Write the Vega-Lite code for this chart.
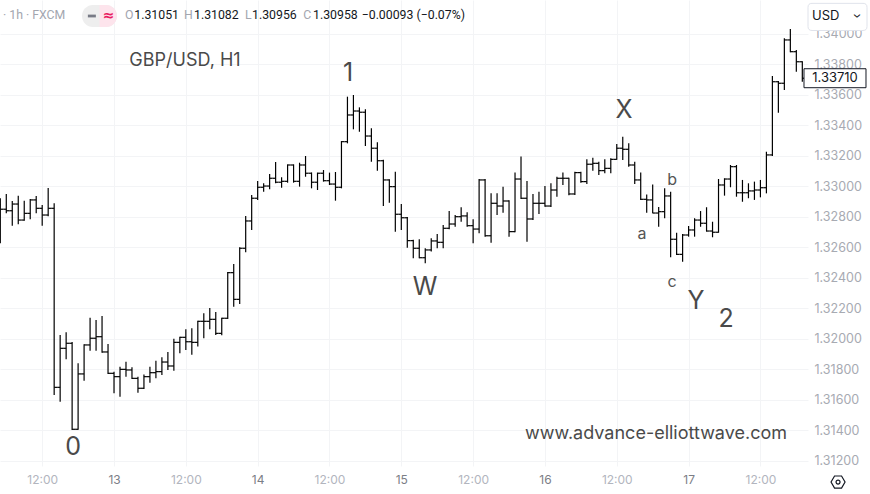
{
"$schema":"https://vega.github.io/schema/vega-lite/v6.json",
"width":808,"height":466,
"autosize":{"type":"none"},
"padding":{"left":0,"top":0,"right":62,"bottom":28},
"background":"#ffffff",
"config":{"view":{"stroke":null},"axis":{"domain":false,"ticks":false,"grid":true,"gridColor":"#f3f4f6","gridWidth":1,"labelFont":"Inter","labelFontSize":12,"labelOverlap":false,"labelFlush":false},
"axisY":{"labelOverlap":false,"labelFlush":false,"labelPadding":6,"labelColor":"#a7aab2","labelFontSize":12.5,"format":".5f","tickCount":40}},
"datasets":{
"bars":[
{"k":0,"o":1.32879,"h":1.32923,"l":1.32628,"c":1.32851},
{"k":1,"o":1.32851,"h":1.32951,"l":1.32824,"c":1.32841},
{"k":2,"o":1.32841,"h":1.32905,"l":1.32743,"c":1.32885},
{"k":3,"o":1.32885,"h":1.32940,"l":1.32752,"c":1.32780},
{"k":4,"o":1.32780,"h":1.32907,"l":1.32775,"c":1.32824},
{"k":5,"o":1.32824,"h":1.32918,"l":1.32785,"c":1.32912},
{"k":6,"o":1.32912,"h":1.32938,"l":1.32824,"c":1.32857},
{"k":7,"o":1.32857,"h":1.32879,"l":1.32743,"c":1.32813},
{"k":8,"o":1.32813,"h":1.32990,"l":1.32805,"c":1.32857},
{"k":9,"o":1.32857,"h":1.32890,"l":1.31633,"c":1.31683},
{"k":10,"o":1.31683,"h":1.32026,"l":1.31589,"c":1.31939},
{"k":11,"o":1.31939,"h":1.32044,"l":1.31867,"c":1.31972},
{"k":12,"o":1.31972,"h":1.31980,"l":1.31403,"c":1.31408},
{"k":13,"o":1.31408,"h":1.31841,"l":1.31405,"c":1.31771},
{"k":14,"o":1.31771,"h":1.31965,"l":1.31727,"c":1.31961},
{"k":15,"o":1.31961,"h":1.32140,"l":1.31923,"c":1.32005},
{"k":16,"o":1.32005,"h":1.32125,"l":1.31923,"c":1.32015},
{"k":17,"o":1.32015,"h":1.32151,"l":1.31910,"c":1.31915},
{"k":18,"o":1.31915,"h":1.31967,"l":1.31771,"c":1.31775},
{"k":19,"o":1.31775,"h":1.31786,"l":1.31644,"c":1.31753},
{"k":20,"o":1.31753,"h":1.31818,"l":1.31622,"c":1.31801},
{"k":21,"o":1.31801,"h":1.31851,"l":1.31753,"c":1.31797},
{"k":22,"o":1.31797,"h":1.31814,"l":1.31738,"c":1.31742},
{"k":23,"o":1.31742,"h":1.31753,"l":1.31648,"c":1.31677},
{"k":24,"o":1.31677,"h":1.31768,"l":1.31672,"c":1.31753},
{"k":25,"o":1.31753,"h":1.31818,"l":1.31713,"c":1.31779},
{"k":26,"o":1.31779,"h":1.31858,"l":1.31742,"c":1.31786},
{"k":27,"o":1.31786,"h":1.31880,"l":1.31764,"c":1.31849},
{"k":28,"o":1.31849,"h":1.31915,"l":1.31797,"c":1.31823},
{"k":29,"o":1.31823,"h":1.32002,"l":1.31792,"c":1.31978},
{"k":30,"o":1.31978,"h":1.32015,"l":1.31906,"c":1.32011},
{"k":31,"o":1.32011,"h":1.32064,"l":1.31928,"c":1.31982},
{"k":32,"o":1.31982,"h":1.32070,"l":1.31897,"c":1.31978},
{"k":33,"o":1.31978,"h":1.32120,"l":1.31950,"c":1.32116},
{"k":34,"o":1.32116,"h":1.32169,"l":1.32005,"c":1.32116},
{"k":35,"o":1.32116,"h":1.32203,"l":1.32064,"c":1.32129},
{"k":36,"o":1.32129,"h":1.32177,"l":1.32026,"c":1.32037},
{"k":37,"o":1.32037,"h":1.32140,"l":1.32024,"c":1.32136},
{"k":38,"o":1.32136,"h":1.32439,"l":1.32131,"c":1.32435},
{"k":39,"o":1.32435,"h":1.32492,"l":1.32212,"c":1.32260},
{"k":40,"o":1.32260,"h":1.32601,"l":1.32230,"c":1.32595},
{"k":41,"o":1.32595,"h":1.32807,"l":1.32569,"c":1.32774},
{"k":42,"o":1.32774,"h":1.32944,"l":1.32715,"c":1.32923},
{"k":43,"o":1.32923,"h":1.33036,"l":1.32912,"c":1.32995},
{"k":44,"o":1.32995,"h":1.33021,"l":1.32966,"c":1.33003},
{"k":45,"o":1.33003,"h":1.33082,"l":1.32982,"c":1.33054},
{"k":46,"o":1.33054,"h":1.33161,"l":1.33021,"c":1.33028},
{"k":47,"o":1.33028,"h":1.33060,"l":1.32992,"c":1.33034},
{"k":48,"o":1.33034,"h":1.33145,"l":1.33025,"c":1.33141},
{"k":49,"o":1.33141,"h":1.33145,"l":1.33025,"c":1.33034},
{"k":50,"o":1.33034,"h":1.33156,"l":1.32999,"c":1.33141},
{"k":51,"o":1.33141,"h":1.33200,"l":1.33064,"c":1.33087},
{"k":52,"o":1.33087,"h":1.33092,"l":1.32988,"c":1.33028},
{"k":53,"o":1.33028,"h":1.33091,"l":1.32977,"c":1.33087},
{"k":54,"o":1.33087,"h":1.33108,"l":1.33032,"c":1.33038},
{"k":55,"o":1.33038,"h":1.33091,"l":1.33010,"c":1.33016},
{"k":56,"o":1.33016,"h":1.33095,"l":1.32907,"c":1.32995},
{"k":57,"o":1.32995,"h":1.33298,"l":1.32988,"c":1.33294},
{"k":58,"o":1.33294,"h":1.33589,"l":1.33283,"c":1.33469},
{"k":59,"o":1.33469,"h":1.33600,"l":1.33375,"c":1.33495},
{"k":60,"o":1.33495,"h":1.33519,"l":1.33359,"c":1.33487},
{"k":61,"o":1.33487,"h":1.33506,"l":1.33266,"c":1.33331},
{"k":62,"o":1.33331,"h":1.33382,"l":1.33163,"c":1.33251},
{"k":63,"o":1.33251,"h":1.33290,"l":1.33104,"c":1.33169},
{"k":64,"o":1.33169,"h":1.33175,"l":1.32872,"c":1.33043},
{"k":65,"o":1.33043,"h":1.33047,"l":1.32894,"c":1.32999},
{"k":66,"o":1.32999,"h":1.33097,"l":1.32704,"c":1.32818},
{"k":67,"o":1.32818,"h":1.32885,"l":1.32715,"c":1.32795},
{"k":68,"o":1.32795,"h":1.32800,"l":1.32599,"c":1.32645},
{"k":69,"o":1.32645,"h":1.32650,"l":1.32529,"c":1.32595},
{"k":70,"o":1.32595,"h":1.32654,"l":1.32529,"c":1.32533},
{"k":71,"o":1.32533,"h":1.32595,"l":1.32496,"c":1.32584},
{"k":72,"o":1.32584,"h":1.32660,"l":1.32573,"c":1.32643},
{"k":73,"o":1.32643,"h":1.32689,"l":1.32595,"c":1.32634},
{"k":74,"o":1.32634,"h":1.32748,"l":1.32595,"c":1.32726},
{"k":75,"o":1.32726,"h":1.32839,"l":1.32720,"c":1.32754},
{"k":76,"o":1.32754,"h":1.32813,"l":1.32736,"c":1.32802},
{"k":77,"o":1.32802,"h":1.32864,"l":1.32769,"c":1.32807},
{"k":78,"o":1.32807,"h":1.32831,"l":1.32736,"c":1.32743},
{"k":79,"o":1.32743,"h":1.32785,"l":1.32628,"c":1.32721},
{"k":80,"o":1.32721,"h":1.33049,"l":1.32693,"c":1.33043},
{"k":81,"o":1.33043,"h":1.33049,"l":1.32671,"c":1.32677},
{"k":82,"o":1.32677,"h":1.32955,"l":1.32631,"c":1.32890},
{"k":83,"o":1.32890,"h":1.32955,"l":1.32813,"c":1.32872},
{"k":84,"o":1.32872,"h":1.32999,"l":1.32828,"c":1.32905},
{"k":85,"o":1.32905,"h":1.32910,"l":1.32671,"c":1.32704},
{"k":86,"o":1.32704,"h":1.33091,"l":1.32700,"c":1.33049},
{"k":87,"o":1.33049,"h":1.33196,"l":1.32918,"c":1.32923},
{"k":88,"o":1.32923,"h":1.33036,"l":1.32638,"c":1.32787},
{"k":89,"o":1.32787,"h":1.32951,"l":1.32780,"c":1.32890},
{"k":90,"o":1.32890,"h":1.32966,"l":1.32820,"c":1.32890},
{"k":91,"o":1.32890,"h":1.33003,"l":1.32868,"c":1.32872},
{"k":92,"o":1.32872,"h":1.33021,"l":1.32865,"c":1.32977},
{"k":93,"o":1.32977,"h":1.33064,"l":1.32933,"c":1.33054},
{"k":94,"o":1.33054,"h":1.33091,"l":1.33010,"c":1.33054},
{"k":95,"o":1.33054,"h":1.33058,"l":1.32942,"c":1.32951},
{"k":96,"o":1.32951,"h":1.33097,"l":1.32944,"c":1.33091},
{"k":97,"o":1.33091,"h":1.33097,"l":1.33025,"c":1.33032},
{"k":98,"o":1.33032,"h":1.33178,"l":1.33016,"c":1.33146},
{"k":99,"o":1.33146,"h":1.33189,"l":1.33104,"c":1.33152},
{"k":100,"o":1.33152,"h":1.33163,"l":1.33075,"c":1.33104},
{"k":101,"o":1.33104,"h":1.33178,"l":1.33087,"c":1.33119},
{"k":102,"o":1.33119,"h":1.33185,"l":1.33087,"c":1.33178},
{"k":103,"o":1.33178,"h":1.33279,"l":1.33175,"c":1.33251},
{"k":104,"o":1.33251,"h":1.33327,"l":1.33174,"c":1.33244},
{"k":105,"o":1.33244,"h":1.33283,"l":1.33130,"c":1.33141},
{"k":106,"o":1.33141,"h":1.33163,"l":1.33016,"c":1.33043},
{"k":107,"o":1.33043,"h":1.33091,"l":1.32912,"c":1.32916},
{"k":108,"o":1.32916,"h":1.32948,"l":1.32828,"c":1.32912},
{"k":109,"o":1.32912,"h":1.33013,"l":1.32824,"c":1.32826},
{"k":110,"o":1.32826,"h":1.32866,"l":1.32736,"c":1.32835},
{"k":111,"o":1.32835,"h":1.32988,"l":1.32792,"c":1.32938},
{"k":112,"o":1.32938,"h":1.32966,"l":1.32536,"c":1.32654},
{"k":113,"o":1.32654,"h":1.32697,"l":1.32551,"c":1.32555},
{"k":114,"o":1.32555,"h":1.32689,"l":1.32507,"c":1.32682},
{"k":115,"o":1.32682,"h":1.32741,"l":1.32671,"c":1.32715},
{"k":116,"o":1.32715,"h":1.32792,"l":1.32671,"c":1.32780},
{"k":117,"o":1.32780,"h":1.32839,"l":1.32736,"c":1.32759},
{"k":118,"o":1.32759,"h":1.32864,"l":1.32704,"c":1.32708},
{"k":119,"o":1.32708,"h":1.32769,"l":1.32667,"c":1.32700},
{"k":120,"o":1.32700,"h":1.33049,"l":1.32697,"c":1.33010},
{"k":121,"o":1.33010,"h":1.33054,"l":1.32940,"c":1.33049},
{"k":122,"o":1.33049,"h":1.33141,"l":1.32995,"c":1.33130},
{"k":123,"o":1.33130,"h":1.33141,"l":1.32933,"c":1.32959},
{"k":124,"o":1.32959,"h":1.33043,"l":1.32900,"c":1.32959},
{"k":125,"o":1.32959,"h":1.33021,"l":1.32923,"c":1.32971},
{"k":126,"o":1.32971,"h":1.33032,"l":1.32912,"c":1.32977},
{"k":127,"o":1.32977,"h":1.33043,"l":1.32929,"c":1.32992},
{"k":128,"o":1.32992,"h":1.33228,"l":1.32955,"c":1.33207},
{"k":129,"o":1.33207,"h":1.33725,"l":1.33200,"c":1.33687},
{"k":130,"o":1.33687,"h":1.33692,"l":1.33484,"c":1.33677},
{"k":131,"o":1.33677,"h":1.33972,"l":1.33633,"c":1.33961},
{"k":132,"o":1.33961,"h":1.34033,"l":1.33880,"c":1.33884},
{"k":133,"o":1.33884,"h":1.33895,"l":1.33753,"c":1.33818},
{"k":134,"o":1.33818,"h":1.33822,"l":1.33687,"c":1.33710}
],
"big":[{"t":"1","k":58.1,"p":1.33744},{"t":"0","k":12.15,"p":1.31292},{"t":"W","k":70.96,"p":1.32341},{"t":"X","k":104.2,"p":1.33502},{"t":"Y","k":116.24,"p":1.32249},{"t":"2","k":121.25,"p":1.32131}],
"small":[{"t":"a","k":107.22,"p":1.32689},{"t":"b","k":112.23,"p":1.33043},{"t":"c","k":112.23,"p":1.32374}],
"ttl":[{"t":"GBP/USD, H1","k":30.86,"p":1.33823}],
"web":[{"t":"www.advance-elliottwave.com","k":109.56,"p":1.31377}],
"hdr":[{"t":"· 1h · FXCM","k":0.45,"p":1.34125,"r":"g"},{"t":"O","k":20.84,"p":1.34125,"r":"g"},{"t":"1.31051","k":22.39,"p":1.34125,"r":"d"},{"t":"H","k":30.69,"p":1.34125,"r":"g"},{"t":"1.31082","k":32.36,"p":1.34125,"r":"d"},{"t":"L","k":40.89,"p":1.34125,"r":"g"},{"t":"1.30956","k":42.06,"p":1.34125,"r":"d"},{"t":"C","k":50.63,"p":1.34125,"r":"g"},{"t":"1.30958","k":52.25,"p":1.34125,"r":"d"},{"t":"−0.00093 (−0.07%)","k":60.38,"p":1.34125,"r":"d"}],
"pill":[{"k":16.57,"p":1.34118}],
"pillglyph":[{"k":15.3,"p":1.34118}],
"pinkglyph":[{"t":"≈","k":18.1,"p":1.34118}],
"last":[{"t":"1.33710","k":139.46,"p":1.33710}],
"cover":[{"k":140.14,"p":1.34121}],
"usd":[{"k":139.88,"p":1.34112}],
"usdtxt":[{"t":"USD","k":135.62,"p":1.34118}],
"chev":[{"t":"›","k":143.1,"p":1.34118}],
"gear":[{"k":139.97,"p":1.31062}]
},
"encoding":{"x":{"field":"k","type":"quantitative","title":null,"scale":{"domain":[-0.05,134.95],"nice":false,"zero":false},
"axis":{"values":[7,19,31,43,55,67,79,91,103,115,127],"tickCount":40,"labelExpr":"(datum.value-19)%24===0 ? ''+(13+(datum.value-19)/24) : '12:00'","labelColor":{"condition":{"test":"(datum.value-19)%24===0","value":"#7b7e86"},"value":"#b2b5be"},"labelPadding":8,"labelFlush":false,"labelOverlap":false,"labelAngle":0}}},
"layer":[
{"data":{"name":"bars"},"mark":{"type":"rule","color":"#000000","strokeWidth":1.2},
 "encoding":{"y":{"field":"l","type":"quantitative","title":null,"scale":{"domain":[1.3116721,1.3422295],"nice":false,"zero":false},
  "axis":{"orient":"right","values":[1.312,1.314,1.316,1.318,1.32,1.322,1.324,1.326,1.328,1.33,1.332,1.334,1.336,1.338,1.34],"tickCount":40,"format":".5f","labelPadding":6,"labelColor":"#a7aab2","labelFontSize":12.5,"labelFlush":false,"labelOverlap":false}},
 "y2":{"field":"h"}}},
{"data":{"name":"bars"},"mark":{"type":"rule","color":"#000000","strokeWidth":1.2,"xOffset":-3,"x2Offset":0},
 "encoding":{"x2":{"field":"k"},"y":{"field":"o","type":"quantitative","title":null}}},
{"data":{"name":"bars"},"mark":{"type":"rule","color":"#000000","strokeWidth":1.2,"xOffset":0,"x2Offset":3},
 "encoding":{"x2":{"field":"k"},"y":{"field":"c","type":"quantitative","title":null}}},
{"data":{"name":"big"},"mark":{"type":"text","font":"Inter","fontSize":25,"color":"#4a4a4a","align":"center","baseline":"middle"},
 "encoding":{"y":{"field":"p","type":"quantitative","title":null},"text":{"field":"t"}}},
{"data":{"name":"small"},"mark":{"type":"text","font":"Inter","fontSize":16,"color":"#555555","align":"center","baseline":"middle"},
 "encoding":{"y":{"field":"p","type":"quantitative","title":null},"text":{"field":"t"}}},
{"data":{"name":"ttl"},"mark":{"type":"text","font":"Inter","fontSize":18,"color":"#4a4a4a","align":"center","baseline":"middle"},
 "encoding":{"y":{"field":"p","type":"quantitative","title":null},"text":{"field":"t"}}},
{"data":{"name":"web"},"mark":{"type":"text","font":"Inter","fontSize":18,"color":"#4a4a4a","align":"center","baseline":"middle"},
 "encoding":{"y":{"field":"p","type":"quantitative","title":null},"text":{"field":"t"}}},
{"data":{"name":"pill"},"mark":{"type":"point","shape":"M-0.37,-0.63H0.37A0.63,0.63 0 0 1 0.37,0.63H-0.37A0.63,0.63 0 0 1 -0.37,-0.63Z","size":1225,"filled":true,"fill":"#eeeeee","strokeWidth":0,"opacity":1},
 "encoding":{"y":{"field":"p","type":"quantitative","title":null}}},
{"data":{"name":"pill"},"mark":{"type":"point","shape":"M0,-0.63H0.37A0.63,0.63 0 0 1 0.37,0.63H0Z","size":1225,"filled":true,"fill":"#fde4ec","strokeWidth":0,"opacity":1},
 "encoding":{"y":{"field":"p","type":"quantitative","title":null}}},
{"data":{"name":"pillglyph"},"mark":{"type":"point","shape":"M-1,-0.35H1V0.35H-1Z","size":64,"filled":true,"fill":"#787b86","strokeWidth":0,"opacity":1},
 "encoding":{"y":{"field":"p","type":"quantitative","title":null}}},
{"data":{"name":"pinkglyph"},"mark":{"type":"text","font":"DejaVu Sans","fontSize":14,"fontWeight":"bold","color":"#e91e63","align":"center","baseline":"middle"},
 "encoding":{"y":{"field":"p","type":"quantitative","title":null},"text":{"field":"t"}}},
{"data":{"name":"hdr"},"mark":{"type":"text","font":"Roboto","fontSize":12.3,"align":"left","baseline":"middle"},
 "encoding":{"y":{"field":"p","type":"quantitative","title":null},"text":{"field":"t"},
 "color":{"field":"r","type":"nominal","scale":{"domain":["g","d"],"range":["#a3a6af","#131722"]},"legend":null}}},
{"data":{"name":"cover"},"mark":{"type":"point","shape":"M-1,-0.5H1V0.5H-1Z","size":3844,"filled":true,"fill":"#ffffff","strokeWidth":0,"opacity":1},
 "encoding":{"y":{"field":"p","type":"quantitative","title":null}}},
{"data":{"name":"usd"},"mark":{"type":"point","shape":"M-0.864,-0.46H0.864Q1,-0.46 1,-0.324V0.324Q1,0.46 0.864,0.46H-0.864Q-1,0.46 -1,0.324V-0.324Q-1,-0.46 -0.864,-0.46Z","size":3481,"filled":true,"fill":"#ffffff","stroke":"#e0e3eb","strokeWidth":1,"opacity":1},
 "encoding":{"y":{"field":"p","type":"quantitative","title":null}}},
{"data":{"name":"usdtxt"},"mark":{"type":"text","font":"Inter","fontSize":13,"color":"#131722","align":"left","baseline":"middle"},
 "encoding":{"y":{"field":"p","type":"quantitative","title":null},"text":{"field":"t"}}},
{"data":{"name":"chev"},"mark":{"type":"text","font":"Inter","fontSize":13,"color":"#131722","align":"center","baseline":"middle","angle":90},
 "encoding":{"y":{"field":"p","type":"quantitative","title":null},"text":{"field":"t"}}},
{"data":{"name":"last"},"mark":{"type":"point","shape":"M-1,-0.306H1V0.306H-1Z","size":3844,"filled":true,"fill":"#ffffff","stroke":"#131722","strokeWidth":1,"opacity":1},
 "encoding":{"y":{"field":"p","type":"quantitative","title":null}}},
{"data":{"name":"last"},"mark":{"type":"text","font":"Inter","fontSize":13,"color":"#131722","align":"center","baseline":"middle"},
 "encoding":{"y":{"field":"p","type":"quantitative","title":null},"text":{"field":"t"}}},
{"data":{"name":"gear"},"mark":{"type":"point","shape":"M-1,0L-0.5,-0.866L0.5,-0.866L1,0L0.5,0.866L-0.5,0.866Z","size":196,"filled":false,"stroke":"#131722","strokeWidth":1.2,"opacity":1},
 "encoding":{"y":{"field":"p","type":"quantitative","title":null}}},
{"data":{"name":"gear"},"mark":{"type":"point","shape":"circle","size":16,"filled":false,"stroke":"#131722","strokeWidth":1.2,"opacity":1},
 "encoding":{"y":{"field":"p","type":"quantitative","title":null}}}
]
}
